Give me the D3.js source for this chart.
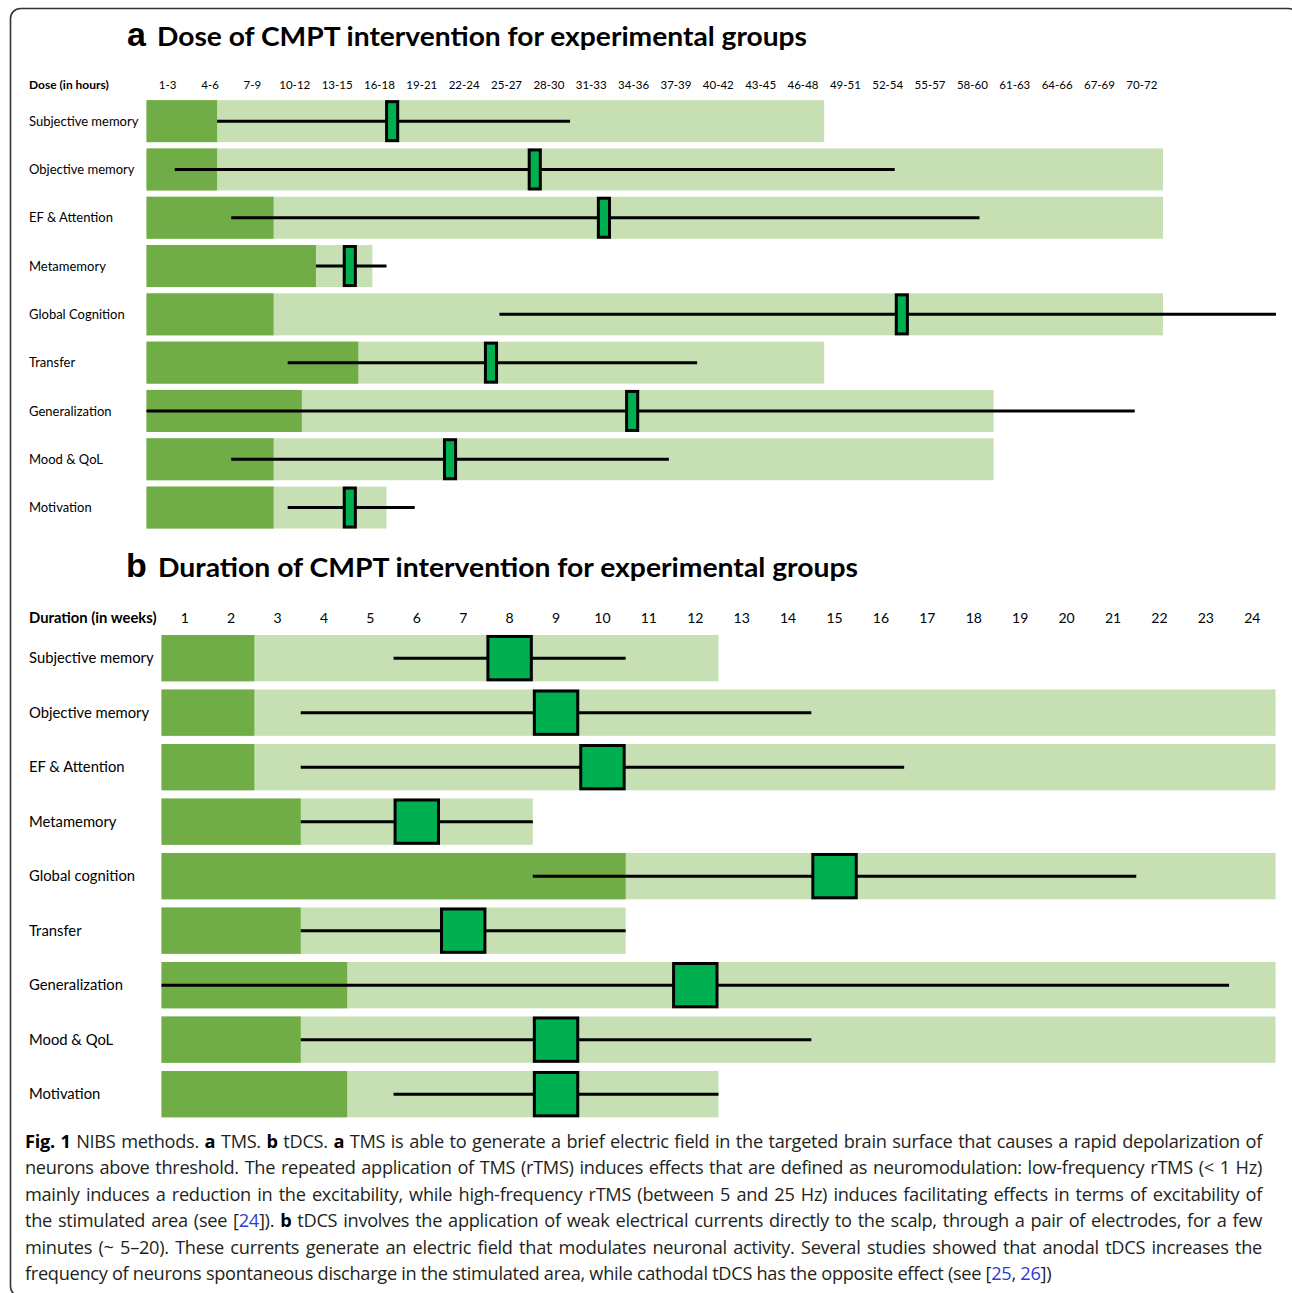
<!DOCTYPE html>
<html>
<head>
<meta charset="utf-8">
<script src="https://cdn.jsdelivr.net/npm/d3@7"></script>
<style>
  html, body { margin: 0; padding: 0; background: #fff; }
  svg { display: block; }
  .lbl { font-family: Lato, "Open Sans", sans-serif; fill: #000; }
  .cap { font-family: "Open Sans", "Noto Sans", sans-serif; fill: #231f20; }
</style>
</head>
<body>
<div id="chart"></div>
<script>
// ---- panel a : dose (hours) ----
const doseCats = ['1-3', '4-6', '7-9', '10-12', '13-15', '16-18', '19-21', '22-24', '25-27', '28-30',
  '31-33', '34-36', '37-39', '40-42', '43-45', '46-48', '49-51', '52-54', '55-57', '58-60',
  '61-63', '64-66', '67-69', '70-72'];
const rowsA = ['Subjective memory', 'Objective memory', 'EF & Attention', 'Metamemory',
  'Global Cognition', 'Transfer', 'Generalization', 'Mood & QoL', 'Motivation'];
const minA = [5, 5, 9, 12, 9, 15, 11, 9, 9];          // dark green: shortest dose
const maxA = [48, 72, 72, 16, 72, 48, 60, 60, 17];    // light green: longest dose
const lowA = [5, 2, 6, 12, 25, 10, 0, 6, 10];         // whisker start
const highA = [30, 53, 59, 17, 80, 39, 70, 37, 19];   // whisker end
const midA = [17.4, 27.5, 32.4, 14.4, 53.5, 24.4, 34.4, 21.5, 14.4];

// ---- panel b : duration (weeks) ----
const weekCats = d3.range(1, 25).map(String);
const rowsB = ['Subjective memory', 'Objective memory', 'EF & Attention', 'Metamemory',
  'Global cognition', 'Transfer', 'Generalization', 'Mood & QoL', 'Motivation'];
const minB = [2, 2, 2, 3, 10, 3, 4, 3, 4];
const maxB = [12, 24, 24, 8, 24, 10, 24, 24, 12];
const lowB = [5, 3, 3, 3, 8, 3, 0, 3, 5];
const highB = [10, 14, 16, 8, 21, 10, 23, 14, 12];
const midB = [7.5, 8.5, 9.5, 5.5, 14.5, 6.5, 11.5, 8.5, 8.5];

const DARK = '#70ad47', LIGHT = '#c6e0b4', MARK = '#00b050';

const W = 1292, H = 1293;
const svg = d3.select('#chart').append('svg').attr('width', W).attr('height', H);

// frame
svg.append('rect')
  .attr('x', 10.5).attr('y', 8.5).attr('width', 1288).attr('height', 1288)
  .attr('rx', 10).attr('fill', 'none').attr('stroke', '#333').attr('stroke-width', 1.6);

function panel(cfg) {
  const x = d3.scaleLinear().domain(cfg.domain).range(cfg.xRange);
  const xc = d3.scaleBand().domain(cfg.cats).range(cfg.xRange);
  const y = d3.scaleBand().domain(cfg.rows).range(cfg.yRange).paddingInner(cfg.pad).paddingOuter(cfg.pad / 2);
  const bw = y.bandwidth();

  // title
  svg.append('text').attr('x', cfg.letterX).attr('y', cfg.titleY)
    .attr('font-family', 'Liberation Sans, Arial, sans-serif').attr('font-weight', 700)
    .attr('font-size', 34).text(cfg.letter);
  svg.append('text').attr('class', 'lbl').attr('y', cfg.titleY).attr('font-weight', 700)
    .attr('x', cfg.titleX).attr('font-size', 27)
    .attr('textLength', cfg.titleW).attr('lengthAdjust', 'spacingAndGlyphs')
    .text(cfg.title);

  // axis labels across the top
  const ax = svg.append('g').attr('transform', `translate(0,${cfg.axisY})`)
    .call(d3.axisTop(xc).tickSize(0).tickPadding(0));
  ax.select('.domain').remove();
  ax.selectAll('text').attr('class', 'lbl').attr('font-size', cfg.tickSize)
    .attr('font-family', 'Lato, sans-serif').attr('fill', '#000').attr('dy', 0);
  svg.append('text').attr('class', 'lbl').attr('x', 29).attr('y', cfg.axisY)
    .attr('font-size', cfg.titleSize).attr('font-weight', 700).text(cfg.axisTitle);

  const g = svg.append('g').selectAll('g').data(cfg.rows).join('g');

  g.append('text').attr('class', 'lbl').attr('x', 29)
    .attr('y', d => y(d) + bw / 2).attr('dy', '0.35em')
    .attr('font-size', cfg.rowSize).text(d => d);

  g.append('rect').attr('fill', LIGHT)
    .attr('x', x(0)).attr('y', d => y(d))
    .attr('width', (d, i) => x(cfg.max[i]) - x(0)).attr('height', bw);
  g.append('rect').attr('fill', DARK)
    .attr('x', x(0)).attr('y', d => y(d))
    .attr('width', (d, i) => x(cfg.min[i]) - x(0)).attr('height', bw);

  g.append('line').attr('stroke', '#000').attr('stroke-width', 3)
    .attr('x1', (d, i) => x(cfg.low[i])).attr('x2', (d, i) => x(cfg.high[i]))
    .attr('y1', d => y(d) + bw / 2).attr('y2', d => y(d) + bw / 2);

  g.append('rect').attr('fill', MARK).attr('stroke', '#000').attr('stroke-width', 3)
    .attr('x', (d, i) => x(cfg.mid[i] - 0.5) + 1.5)
    .attr('width', (d, i) => x(cfg.mid[i] + 0.5) - x(cfg.mid[i] - 0.5) - 3)
    .attr('y', d => y(d) + 1.5).attr('height', bw - 3);
}

panel({
  letter: 'a', letterX: 127, title: 'Dose of CMPT intervention for experimental groups',
  titleX: 157, titleW: 650, titleY: 46,
  cats: doseCats, domain: [0, 72], xRange: [146.5, 1163],
  rows: rowsA, yRange: [97, 531.7], pad: 0.13,
  axisY: 89, axisTitle: 'Dose (in hours)', tickSize: 11.5, titleSize: 12, rowSize: 13,
  min: minA, max: maxA, low: lowA, high: highA, mid: midA
});

panel({
  letter: 'b', letterX: 126, title: 'Duration of CMPT intervention for experimental groups',
  titleX: 158, titleW: 700, titleY: 577,
  cats: weekCats, domain: [0, 24], xRange: [161.5, 1275.5],
  rows: rowsB, yRange: [630.9, 1121.4], pad: 0.15,
  axisY: 623, axisTitle: 'Duration (in weeks)', tickSize: 14, titleSize: 14.8, rowSize: 14.8,
  min: minB, max: maxB, low: lowB, high: highB, mid: midB
});

// ---- caption ----
const capLines = [
  [['Fig. 1', 'b'], [' NIBS methods. '], ['a', 'b'], [' TMS. '], ['b', 'b'], [' tDCS. '], ['a', 'b'],
    [' TMS is able to generate a brief electric field in the targeted brain surface that causes a rapid depolarization of']],
  [['neurons above threshold. The repeated application of TMS (rTMS) induces effects that are defined as neuromodulation: low-frequency rTMS (< 1 Hz)']],
  [['mainly induces a reduction in the excitability, while high-frequency rTMS (between 5 and 25 Hz) induces facilitating effects in terms of excitability of']],
  [['the stimulated area (see ['], ['24', 'l'], [']). '], ['b', 'b'],
    [' tDCS involves the application of weak electrical currents directly to the scalp, through a pair of electrodes, for a few']],
  [['minutes (~ 5–20). These currents generate an electric field that modulates neuronal activity. Several studies showed that anodal tDCS increases the']],
  [['frequency of neurons spontaneous discharge in the stimulated area, while cathodal tDCS has the opposite effect (see ['], ['25', 'l'], [', '], ['26', 'l'], ['])']]
];
const capX = 25, capRight = 1262;
capLines.forEach((parts, i) => {
  const t = svg.append('text').attr('class', 'cap').attr('x', capX).attr('y', 1148 + i * 26.4)
    .attr('font-size', 18.2).attr('letter-spacing', -0.3);
  parts.forEach(p => {
    const s = t.append('tspan').text(p[0]);
    if (p[1] === 'b') s.attr('font-weight', 700).attr('fill', '#000');
    if (p[1] === 'l') s.attr('fill', '#2b3bd6');
  });
  if (i < capLines.length - 1) {
    const w = t.node().getComputedTextLength();
    const spaces = parts.map(p => p[0]).join('').split(' ').length - 1;
    t.attr('word-spacing', (capRight - capX - w) / spaces);
  }
});
</script>
</body>
</html>
